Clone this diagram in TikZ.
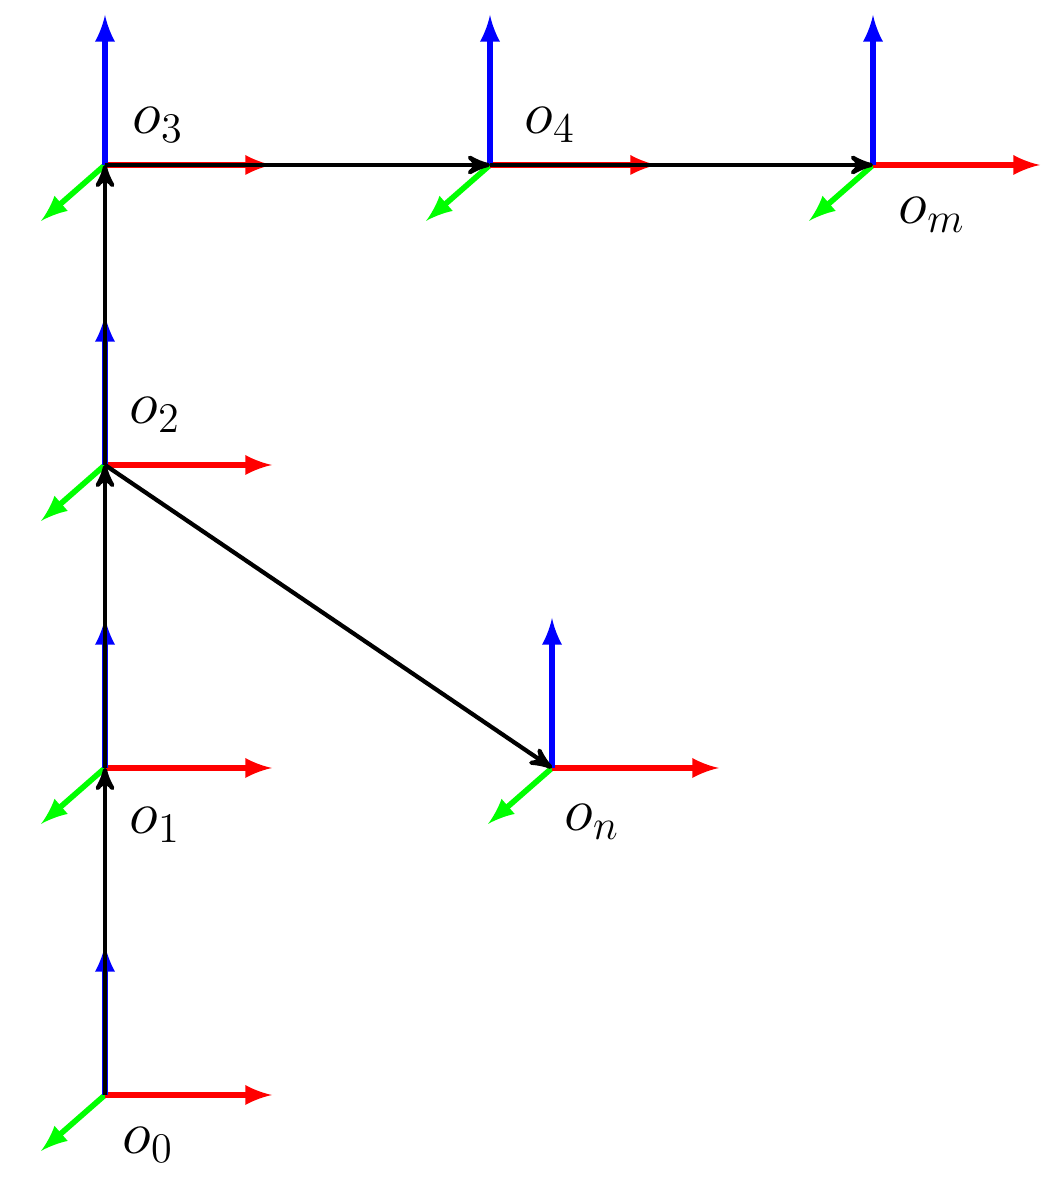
\documentclass[tikz,border=0pt]{standalone}
\usepackage{amsmath,amssymb}
\usepackage{tikz}
\usetikzlibrary{arrows,positioning}
\tikzset{xaxis/.style={-latex,line width=1.6pt,draw=red},
		zaxis/.style={-latex,line width=1.6pt,draw=blue},
		yaxis/.style={-latex,line width=1.6pt,draw=green},
		link/.style={->,>=stealth',line width=1.2pt,draw=black},
		lbl/.style={font=\LARGE,inner sep=0pt}}

\begin{document}
\begin{tikzpicture}
		\useasboundingbox (0,0) rectangle (10.59,11.9);
		\coordinate (o0) at (1.05,0.95);
		\coordinate (o1) at (1.05,4.22);
		\coordinate (o2) at (1.05,7.25);
		\coordinate (o3) at (1.05,10.25);
		\coordinate (o4) at (4.90,10.25);
		\coordinate (om) at (8.73,10.25);
		\coordinate (on) at (5.52,4.22);
		
		\foreach \f in {o0,o1,o2,o3,o4,om,on} {
			\draw[yaxis] (\f) -- ++(-0.64,-0.56);
			\draw[xaxis] (\f) -- ++(1.67,0);
			\draw[zaxis] (\f) -- ++(0,1.5);
		}
		
		\draw[link] (o0) -- (o1);
		\draw[link] (o1) -- (o2);
		\draw[link] (o2) -- (o3);
		\draw[link] (o3) -- (o4);
		\draw[link] (o4) -- (om);
		\draw[link] (o2) -- (on);
		
		\node[lbl] (l0) at (1.48,0.45) {$o_0$};
		\node[lbl] (l1) at (1.55,3.65) {$o_1$};
		\node[lbl] (l2) at (1.55,7.75) {$o_2$};
		\node[lbl] (l3) at (1.58,10.65) {$o_3$};
		\node[lbl] (l4) at (5.50,10.65) {$o_4$};
		\node[lbl] (lm) at (9.32,9.75) {$o_m$};
		\node[lbl] (ln) at (5.92,3.68) {$o_n$};
	\end{tikzpicture}
\end{document}
